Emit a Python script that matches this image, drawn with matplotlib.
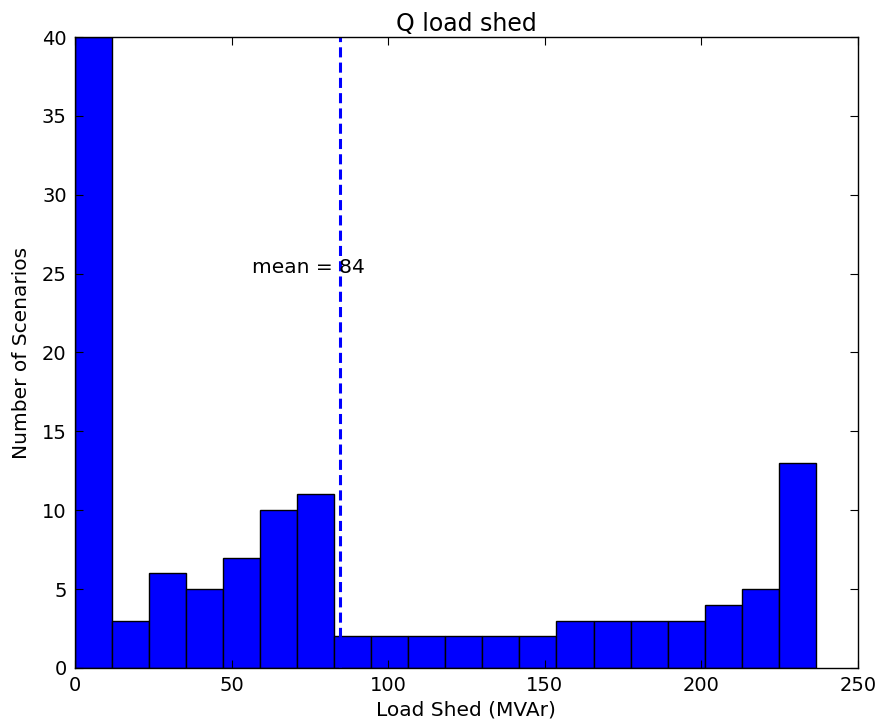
import numpy as np
import matplotlib
matplotlib.use("Agg")
import matplotlib.pyplot as plt

counts = [40, 3, 6, 5, 7, 10, 11, 2, 2, 2, 2, 2, 2, 3, 3, 3, 3, 4, 5, 13]
bin_min = 0.0
bin_max = 236.6
mean_value = 84
title = "Q load shed"
xlabel = "Load Shed (MVAr)"
ylabel = "Number of Scenarios"

edges = np.linspace(bin_min, bin_max, len(counts) + 1)
widths = np.diff(edges)

fig = plt.figure(figsize=(8.77, 7.26), dpi=100)
ax = fig.add_axes([0.0855, 0.080, 0.8925, 0.869])
ax.bar(edges[:-1], counts, width=widths, align='edge', color='#0000ff',
       edgecolor='black', linewidth=1.0)
ax.axvline(mean_value + 0.5, color='#0000ff', linestyle='--', linewidth=2.2,
           dashes=(3.3, 1.7))
ax.text(56.5, 25.4, "mean = %d" % mean_value, ha='left', va='center', fontsize=14.5)
ax.set_xlim(0, 250)
ax.set_ylim(0, 40)
ax.set_xticks([0, 50, 100, 150, 200, 250])
ax.set_yticks(range(0, 41, 5))
ax.tick_params(direction='in', top=True, right=True, labelsize=14, length=6, pad=6)
ax.set_title(title, fontsize=17, pad=4)
ax.set_xlabel(xlabel, fontsize=14.5, labelpad=4)
ax.set_ylabel(ylabel, fontsize=14.5, labelpad=8)
for s in ax.spines.values():
    s.set_linewidth(1.0)
fig.savefig("out.png", dpi=100)
